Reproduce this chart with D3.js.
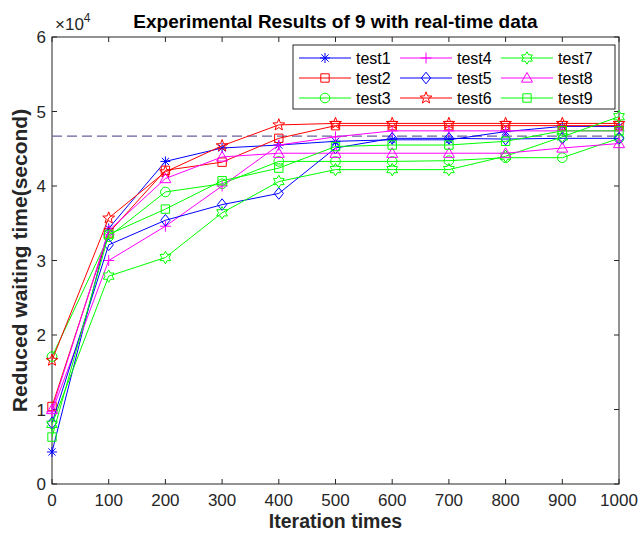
<!DOCTYPE html>
<html><head><meta charset="utf-8">
<script src="https://cdn.jsdelivr.net/npm/d3@7"></script>
<style>body{margin:0;background:#fff}svg{display:block}text{font-family:"Liberation Sans",Arial,sans-serif}</style>
</head><body>
<svg id="c" width="639" height="534"></svg>
<script>
const iterations = [0,100,200,300,400,500,600,700,800,900,1000];
const test1 = [0.43,3.43,4.33,4.51,4.55,4.60,4.62,4.62,4.73,4.80,4.80];
const test2 = [1.04,3.37,4.21,4.32,4.64,4.81,4.81,4.81,4.81,4.81,4.81];
const test3 = [1.71,3.32,3.92,4.03,4.33,4.33,4.33,4.34,4.38,4.38,4.64];
const test4 = [0.97,3.00,3.46,4.00,4.55,4.66,4.74,4.74,4.74,4.74,4.74];
const test5 = [0.82,3.21,3.54,3.75,3.90,4.51,4.64,4.64,4.63,4.64,4.64];
const test6 = [1.66,3.57,4.19,4.54,4.82,4.84,4.84,4.84,4.84,4.84,4.84];
const test7 = [0.80,2.79,3.04,3.64,4.06,4.22,4.22,4.22,4.40,4.66,4.93];
const test8 = [1.00,3.40,4.10,4.39,4.44,4.44,4.44,4.44,4.44,4.51,4.57];
const test9 = [0.63,3.35,3.69,4.07,4.24,4.53,4.55,4.55,4.60,4.74,4.74];
const seriesNames = ["test1","test2","test3","test4","test5","test6","test7","test8","test9"];
const seriesColors = ["#0000ff","#ff0000","#00ff00","#ff00ff","#0000ff","#ff0000","#00ff00","#ff00ff","#00ff00"];
const seriesMarkers = ["asterisk","square","circle","plus","diamond","pentagram","hexagram","triangle","square"];
const refLine = 4.67;
const xTicks = [0,100,200,300,400,500,600,700,800,900,1000];
const yTicks = [0,1,2,3,4,5,6];
const titleText = "Experimental Results of 9 with real-time data";
const xLabel = "Iteration times";
const yLabel = "Reduced waiting time(second)";

const allSeries = [test1,test2,test3,test4,test5,test6,test7,test8,test9];
const svg = d3.select("#c");
const L=52, R=619, T=37, B=484;
const x = d3.scaleLinear().domain([0,1000]).range([L,R]);
const y = d3.scaleLinear().domain([0,6]).range([B,T]);

function markerPath(type){
  const p = d3.path();
  if(type==="asterisk"){
    const s=5, d=3.6;
    p.moveTo(-s,0);p.lineTo(s,0);p.moveTo(0,-s);p.lineTo(0,s);
    p.moveTo(-d,-d);p.lineTo(d,d);p.moveTo(-d,d);p.lineTo(d,-d);
  } else if(type==="plus"){
    const s=5.5; p.moveTo(-s,0);p.lineTo(s,0);p.moveTo(0,-s);p.lineTo(0,s);
  } else if(type==="square"){
    const s=4.2; p.rect(-s,-s,2*s,2*s);
  } else if(type==="circle"){
    p.arc(0,0,4.8,0,2*Math.PI); p.closePath();
  } else if(type==="diamond"){
    const s=5.8; p.moveTo(0,-s);p.lineTo(s*0.8,0);p.lineTo(0,s);p.lineTo(-s*0.8,0);p.closePath();
  } else if(type==="triangle"){
    const s=5.5; p.moveTo(0,-s);p.lineTo(s,s*0.75);p.lineTo(-s,s*0.75);p.closePath();
  } else if(type==="pentagram"||type==="hexagram"){
    const n = type==="pentagram"?5:6;
    const ro = 6.2, ri = type==="pentagram"?2.6:3.6;
    for(let i=0;i<2*n;i++){
      const r = i%2?ri:ro; const a = -Math.PI/2 + i*Math.PI/n;
      const px=r*Math.cos(a), py=r*Math.sin(a);
      if(i===0)p.moveTo(px,py);else p.lineTo(px,py);
    }
    p.closePath();
  }
  return p.toString();
}

// axes box
svg.append("rect").attr("x",L).attr("y",T).attr("width",R-L).attr("height",B-T)
  .attr("fill","#fff").attr("stroke","#262626").attr("stroke-width",1);

// ticks
const tickLen=5;
const g = svg.append("g").attr("stroke","#262626").attr("stroke-width",1);
xTicks.forEach(v=>{
  g.append("line").attr("x1",x(v)).attr("x2",x(v)).attr("y1",B).attr("y2",B-tickLen);
  g.append("line").attr("x1",x(v)).attr("x2",x(v)).attr("y1",T).attr("y2",T+tickLen);
});
yTicks.forEach(v=>{
  g.append("line").attr("x1",L).attr("x2",L+tickLen).attr("y1",y(v)).attr("y2",y(v));
  g.append("line").attr("x1",R).attr("x2",R-tickLen).attr("y1",y(v)).attr("y2",y(v));
});
svg.append("g").selectAll("text").data(xTicks).join("text")
  .attr("x",d=>x(d)).attr("y",B+22).attr("text-anchor","middle")
  .attr("font-size",17).attr("fill","#262626").text(d=>d);
svg.append("g").selectAll("text").data(yTicks).join("text")
  .attr("x",L-6).attr("y",d=>y(d)+6).attr("text-anchor","end")
  .attr("font-size",17).attr("fill","#262626").text(d=>d);
const ex = svg.append("text").attr("x",L+3).attr("y",T-7).attr("font-size",17).attr("fill","#262626");
ex.append("tspan").text("\u00d710");
ex.append("tspan").attr("dy",-8).attr("font-size",12).text("4");

// reference dashed line
svg.append("line").attr("x1",L).attr("x2",R).attr("y1",y(refLine)).attr("y2",y(refLine))
  .attr("stroke","#6a5f9c").attr("stroke-width",1.3).attr("stroke-dasharray","10,5");

// series
const line = d3.line().x((d,i)=>x(iterations[i])).y(d=>y(d));
allSeries.forEach((vals,k)=>{
  const sg = svg.append("g");
  sg.append("path").attr("d",line(vals)).attr("fill","none")
    .attr("stroke",seriesColors[k]).attr("stroke-width",1);
  sg.selectAll("path.m").data(vals).join("path").attr("class","m")
    .attr("transform",(d,i)=>`translate(${x(iterations[i])},${y(d)})`)
    .attr("d",markerPath(seriesMarkers[k])).attr("fill","none")
    .attr("stroke",seriesColors[k]).attr("stroke-width",1);
});

// title & labels
svg.append("text").attr("x",(L+R)/2).attr("y",28).attr("text-anchor","middle")
  .attr("font-size",19).attr("font-weight","bold").attr("fill","#000").text(titleText);
svg.append("text").attr("x",(L+R)/2).attr("y",528).attr("text-anchor","middle")
  .attr("font-size",19.5).attr("font-weight","bold").attr("fill","#262626").text(xLabel);
svg.append("text").attr("transform",`translate(27,${(T+B)/2}) rotate(-90)`).attr("text-anchor","middle")
  .attr("font-size",21).attr("font-weight","bold").attr("fill","#262626").text(yLabel);

// legend
const lg = svg.append("g");
lg.append("rect").attr("x",293).attr("y",45).attr("width",322).attr("height",64)
  .attr("fill","#fff").attr("stroke","#262626").attr("stroke-width",1);
seriesNames.forEach((name,k)=>{
  const col = Math.floor(k/3), row = k%3;
  const x0 = 299 + col*101, yy = 58 + row*20;
  lg.append("line").attr("x1",x0).attr("x2",x0+52).attr("y1",yy).attr("y2",yy)
    .attr("stroke",seriesColors[k]).attr("stroke-width",1);
  lg.append("path").attr("transform",`translate(${x0+26},${yy})`).attr("d",markerPath(seriesMarkers[k]))
    .attr("fill","none").attr("stroke",seriesColors[k]);
  lg.append("text").attr("x",x0+57).attr("y",yy+6).attr("font-size",16).attr("fill","#000").text(name);
});
</script>
</body></html>
